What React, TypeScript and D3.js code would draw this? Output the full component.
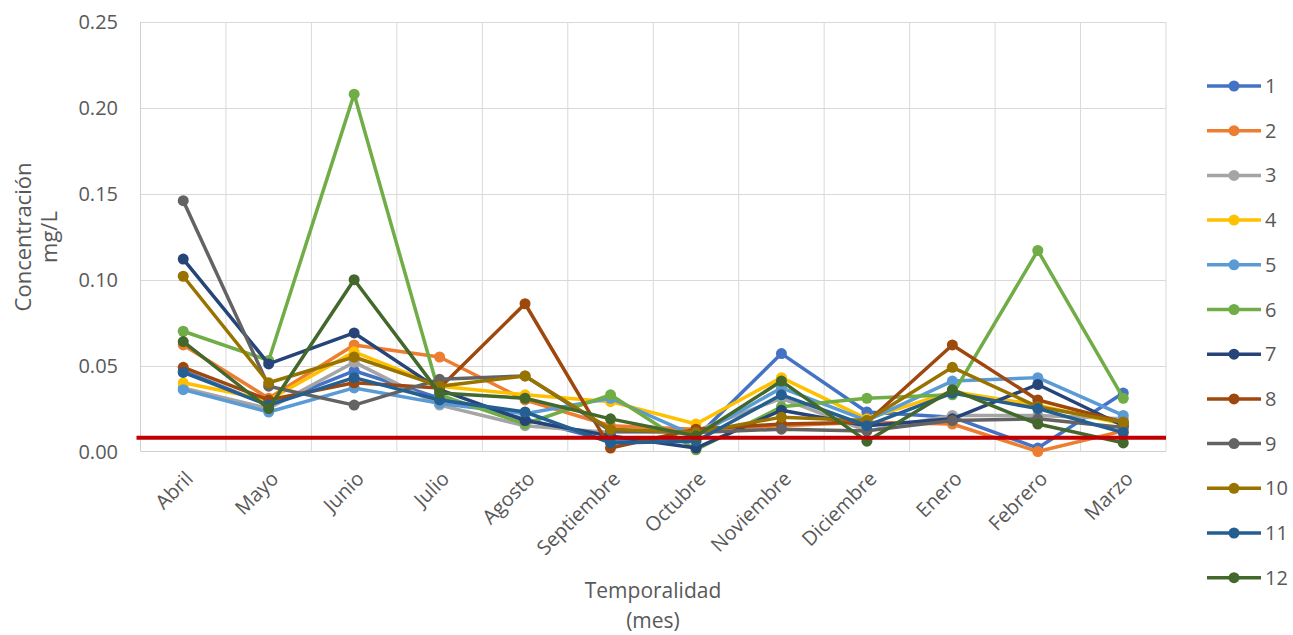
import React from "react";
import * as d3 from "d3";

const months = ["Abril", "Mayo", "Junio", "Julio", "Agosto", "Septiembre", "Octubre", "Noviembre", "Diciembre", "Enero", "Febrero", "Marzo"];
const seriesNames = ["1", "2", "3", "4", "5", "6", "7", "8", "9", "10", "11", "12"];
const seriesColors = ["#4472C4", "#ED7D31", "#A5A5A5", "#FFC000", "#5B9BD5", "#70AD47", "#264478", "#9E480E", "#636363", "#997300", "#255E91", "#43682B"];

const s1 = [0.047, 0.027, 0.047, 0.031, 0.019, 0.006, 0.008, 0.057, 0.023, 0.020, 0.002, 0.034];
const s2 = [0.062, 0.031, 0.062, 0.055, 0.030, 0.015, 0.013, 0.015, 0.017, 0.016, 0.000, 0.012];
const s3 = [0.037, 0.025, 0.052, 0.027, 0.015, 0.011, 0.012, 0.031, 0.012, 0.021, 0.021, 0.019];
const s4 = [0.040, 0.030, 0.058, 0.038, 0.033, 0.029, 0.016, 0.043, 0.019, 0.035, 0.027, 0.016];
const s5 = [0.036, 0.023, 0.037, 0.028, 0.022, 0.031, 0.009, 0.037, 0.018, 0.041, 0.043, 0.021];
const s6 = [0.070, 0.053, 0.208, 0.033, 0.016, 0.033, 0.001, 0.026, 0.031, 0.033, 0.117, 0.031];
const s7 = [0.112, 0.051, 0.069, 0.036, 0.018, 0.009, 0.002, 0.024, 0.015, 0.019, 0.039, 0.015];
const s8 = [0.049, 0.030, 0.040, 0.037, 0.086, 0.002, 0.013, 0.016, 0.017, 0.062, 0.030, 0.017];
const s9 = [0.146, 0.038, 0.027, 0.042, 0.044, 0.012, 0.011, 0.013, 0.012, 0.018, 0.019, 0.014];
const s10 = [0.102, 0.040, 0.055, 0.038, 0.044, 0.013, 0.011, 0.020, 0.018, 0.049, 0.026, 0.017];
const s11 = [0.046, 0.027, 0.043, 0.030, 0.023, 0.005, 0.006, 0.033, 0.015, 0.034, 0.025, 0.011];
const s12 = [0.064, 0.025, 0.100, 0.034, 0.031, 0.019, 0.009, 0.041, 0.006, 0.036, 0.016, 0.005];
const seriesValues = [s1, s2, s3, s4, s5, s6, s7, s8, s9, s10, s11, s12];

const yTicks = [0, 0.05, 0.1, 0.15, 0.2, 0.25];
const threshold = 0.008;

const W = 1293;
const H = 635;
const plot = { left: 140.5, right: 1166, top: 22, bottom: 451.5 };
const FONT = "'Open Sans', sans-serif";
const TEXT = "#595959";

export default function App() {
  const x = d3.scaleBand<string>().domain(months).range([plot.left, plot.right]).padding(0);
  const cx = (m: string) => (x(m) as number) + x.bandwidth() / 2;
  const y = d3.scaleLinear().domain([0, 0.25]).range([plot.bottom, plot.top]);
  const line = d3.line<number>().x((_, i) => cx(months[i])).y((v) => y(v));

  const legendX = 1207;
  const legendY0 = 86;
  const legendStep = 44.7;

  return (
    <svg width={W} height={H} style={{ position: "absolute", left: 0, top: 0, background: "#fff" }}>
      {yTicks.slice(1).map((t) => (
        <line key={"h" + t} x1={plot.left} x2={plot.right} y1={Math.round(y(t)) + 0.5} y2={Math.round(y(t)) + 0.5} stroke="#d9d9d9" strokeWidth={1} />
      ))}
      {months.map((m) => (
        <line key={"v" + m} x1={(x(m) as number) + x.bandwidth()} x2={(x(m) as number) + x.bandwidth()} y1={plot.top} y2={plot.bottom} stroke="#d9d9d9" strokeWidth={1} />
      ))}
      <line x1={plot.left} x2={plot.left} y1={plot.top} y2={plot.bottom} stroke="#d0d0d0" strokeWidth={1} />
      <line x1={plot.left} x2={plot.right} y1={plot.bottom} y2={plot.bottom} stroke="#d0d0d0" strokeWidth={1} />

      {yTicks.map((t) => (
        <text key={"yt" + t} x={118} y={y(t)} dy="0.35em" textAnchor="end" fontFamily={FONT} fontSize={20} fill={TEXT}>
          {d3.format(".2f")(t)}
        </text>
      ))}

      {months.map((m) => (
        <text key={"xt" + m} transform={`translate(${cx(m) + 11},${480}) rotate(-45)`} textAnchor="end" fontFamily={FONT} fontSize={20} fill={TEXT}>
          {m}
        </text>
      ))}

      {seriesValues.map((vals, si) => (
        <g key={"s" + si}>
          <path d={line(vals) as string} fill="none" stroke={seriesColors[si]} strokeWidth={3.5} strokeLinejoin="round" strokeLinecap="round" />
          {vals.map((v, i) => (
            <circle key={i} cx={cx(months[i])} cy={y(v)} r={5.5} fill={seriesColors[si]} />
          ))}
        </g>
      ))}

      <line x1={plot.left - 4} x2={plot.right} y1={y(threshold)} y2={y(threshold)} stroke="#C00000" strokeWidth={4} />

      <g transform="translate(31,237) rotate(-90)">
        <text textAnchor="middle" fontFamily={FONT} fontSize={22} fill={TEXT}>Concentración</text>
      </g>
      <g transform="translate(57,237) rotate(-90)">
        <text textAnchor="middle" fontFamily={FONT} fontSize={22} fill={TEXT}>mg/L</text>
      </g>
      <text x={653} y={598} textAnchor="middle" fontFamily={FONT} fontSize={21} fill={TEXT}>Temporalidad</text>
      <text x={653} y={628} textAnchor="middle" fontFamily={FONT} fontSize={21} fill={TEXT}>(mes)</text>

      {seriesNames.map((n, i) => {
        const ly = legendY0 + i * legendStep;
        return (
          <g key={"lg" + n}>
            <line x1={legendX} x2={legendX + 54} y1={ly} y2={ly} stroke={seriesColors[i]} strokeWidth={3.5} />
            <circle cx={legendX + 27} cy={ly} r={5.5} fill={seriesColors[i]} />
            <text x={legendX + 58} y={ly} dy="0.35em" fontFamily={FONT} fontSize={20} fill={TEXT}>{n}</text>
          </g>
        );
      })}
    </svg>
  );
}
